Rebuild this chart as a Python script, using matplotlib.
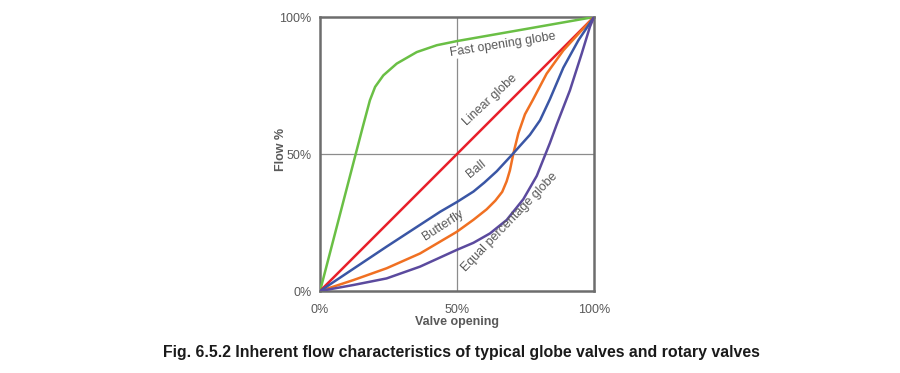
import matplotlib
matplotlib.use("Agg")
import matplotlib.pyplot as plt

# curves: valve opening % -> flow %
fast_x = [0, 15.6, 18.2, 20.1, 23.1, 28, 35.3, 42.6, 49.9, 75, 100]
fast_y = [0, 59.9, 69.6, 74.5, 78.7, 83, 87.2, 89.7, 91.2, 95.6, 100]

linear_x = [0, 100]
linear_y = [0, 100]

ball_x = [0, 24.3, 43.8, 50, 56, 60, 64.5, 70.6, 73, 76.6, 80.3, 83.9, 88.8, 94.3, 100]
ball_y = [0, 16.2, 28.9, 32.5, 36.3, 39.6, 43.7, 50.3, 53, 57, 62.3, 70, 81.5, 91.5, 100]

butterfly_x = [0, 12.2, 24.3, 36.5, 49.9, 56, 60.8, 64, 66.5, 68.1, 69.3, 70.6, 72.4, 74.8,
               77.6, 82.7, 88.8, 94.9, 100]
butterfly_y = [0, 4, 8.3, 13.7, 21.6, 26, 29.8, 33, 36.2, 40, 44, 50.3, 57.6, 64.5,
               69.6, 79.3, 87.8, 94.5, 100]

eqpct_x = [0, 12.2, 24.3, 36.5, 49.9, 56, 62, 68.1, 74.2, 79.1, 80.3, 83.9, 86.4, 91.2, 95.5, 98.5, 100]
eqpct_y = [0, 2.2, 4.6, 8.9, 15, 17.6, 21, 25.9, 33.5, 42, 45, 54, 60.8, 73.2, 86.6, 96.4, 100]

ticks = [0, 50, 100]
tick_labels = ["0%", "50%", "100%"]

plt.rcParams["font.family"] = ["Liberation Sans", "DejaVu Sans"]
grey = "#595959"

fig = plt.figure(figsize=(9, 3.73), dpi=100)
ax = fig.add_axes([0.3556, 0.2198, 0.3044, 0.7346])

ax.axhline(50, color="#8c8c8c", lw=0.9, zorder=1)
ax.axvline(50, color="#8c8c8c", lw=0.9, zorder=1)

kw = dict(lw=1.8, zorder=3, solid_joinstyle="round")
ax.plot(fast_x, fast_y, color="#6abf45", **kw)
ax.plot(linear_x, linear_y, color="#e8202a", **kw)
ax.plot(butterfly_x, butterfly_y, color="#f07022", **kw)
ax.plot(ball_x, ball_y, color="#3a56a5", **kw)
ax.plot(eqpct_x, eqpct_y, color="#5b4a9e", **kw)

lbl = dict(color=grey, fontsize=9, ha="center", va="center", zorder=4)
ax.text(66.8, 89.8, "Fast opening globe", rotation=9, **lbl,
        bbox=dict(facecolor="white", edgecolor="none", pad=0.3))
ax.text(62, 69.5, "Linear globe", rotation=43, **lbl)
ax.text(57.2, 44.4, "Ball", rotation=39, **lbl)
ax.text(45, 24, "Butterfly", rotation=33, **lbl)
ax.text(69.3, 25.2, "Equal percentage globe", rotation=46, **lbl)

ax.set_xlim(0, 100)
ax.set_ylim(0, 100)
ax.set_xticks(ticks)
ax.set_xticklabels(tick_labels)
ax.set_yticks(ticks)
ax.set_yticklabels(tick_labels)
ax.tick_params(length=0, labelsize=9, colors=grey, pad=6)
ax.tick_params(axis="x", pad=9)
for s in ax.spines.values():
    s.set_color("#6d6d6d")
    s.set_linewidth(1.8)

ax.set_xlabel("Valve opening", fontsize=9, fontweight="bold", color=grey, labelpad=0.5)
ax.set_ylabel("Flow %", fontsize=9, fontweight="bold", color=grey)
ax.yaxis.set_label_coords(-0.121, 0.515)

fig.text(0.513, 0.055, "Fig. 6.5.2 Inherent flow characteristics of typical globe valves and rotary valves",
         ha="center", va="center", fontsize=11.4, fontweight="bold", color="#1a1a1a")

fig.savefig("out.png", dpi=100)
